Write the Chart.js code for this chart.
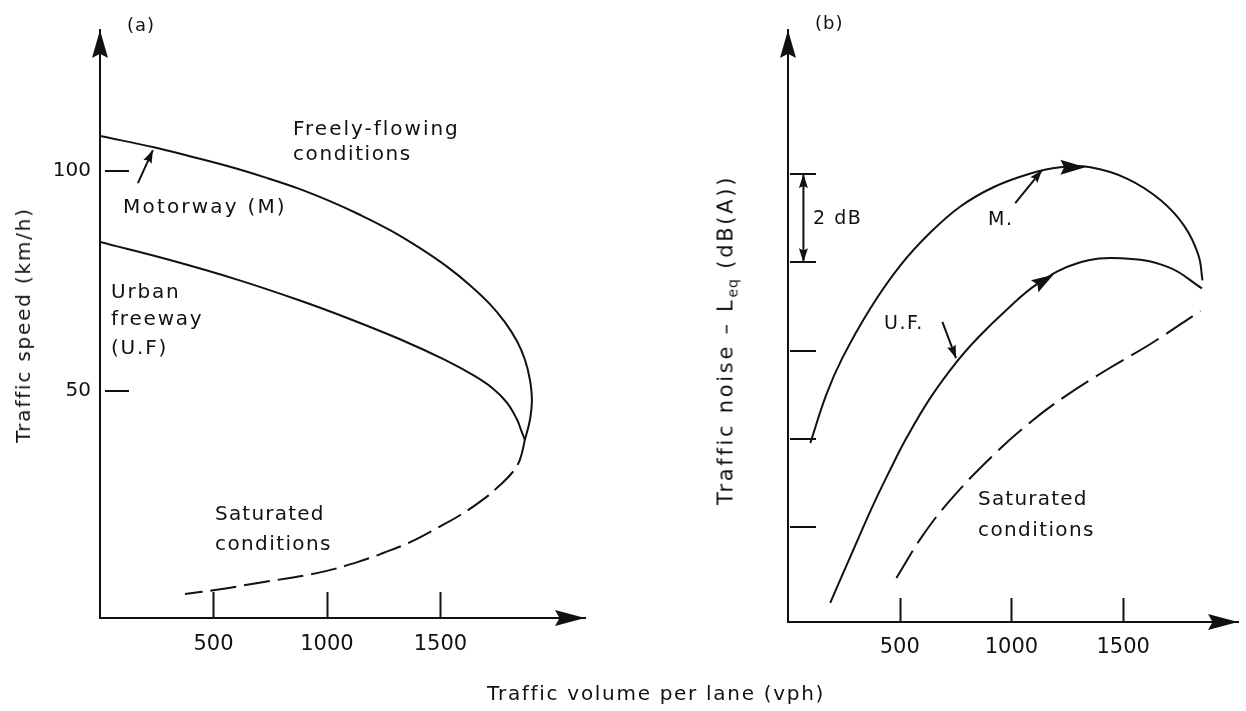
<!DOCTYPE html>
<html>
<head>
<meta charset="utf-8">
<title>Traffic speed and noise against traffic volume</title>
<script src="https://cdn.jsdelivr.net/npm/chart.js@4.4.1/dist/chart.umd.min.js"></script>
<style>
  html, body { margin: 0; padding: 0; background: #fff; }
  #page { position: relative; width: 1246px; height: 711px; overflow: hidden; background: #fff; }
  #page canvas { position: absolute; left: 0; top: 0; }
  .axis-title {
    position: absolute;
    white-space: nowrap;
    font-family: "DejaVu Sans", "Liberation Sans", sans-serif;
    color: #111;
    transform: translate(-50%, -50%) rotate(-90deg);
  }
  #speedTitle { left: 23px; top: 325px; font-size: 20px; line-height: 20px; letter-spacing: 1.8px; }
  #noiseTitle { left: 727px; top: 340px; font-size: 21px; line-height: 21px; letter-spacing: 2.7px; }
  #noiseTitle .sub { position: relative; top: 5px; font-size: 14px; letter-spacing: 1px; }
</style>
</head>
<body>
<div id="page">
  <canvas id="speedChart" width="1246" height="711"></canvas>
  <canvas id="noiseChart" width="1246" height="711"></canvas>
  <div class="axis-title" id="speedTitle">Traffic speed (km/h)</div>
  <div class="axis-title" id="noiseTitle">Traffic noise – L<span class="sub">eq</span> (dB(A))</div>
</div>
<script>
// tick values
const volumeTicks = [500, 1000, 1500];
const speedTicks = [50, 100];
const noiseTicks = [0, 2, 4, 6, 8]; // 2 dB(A) steps, unlabelled

// (a) speed-flow curves
const motorwayVolume = [0, 242, 396, 573, 727, 872, 1013, 1145, 1278, 1410, 1529, 1630, 1718, 1784, 1837, 1872, 1894, 1903, 1894, 1872];
const motorwaySpeed = [107.9, 105.3, 103.3, 100.9, 98.5, 96.0, 93.1, 90.0, 86.5, 82.4, 78.2, 74.0, 69.7, 65.6, 61.3, 57.1, 52.6, 47.9, 43.3, 38.8];

const freewayVolume = [0, 308, 608, 881, 1101, 1322, 1520, 1652, 1731, 1793, 1837, 1855, 1872];
const freewaySpeed = [83.8, 79.7, 75.2, 70.5, 66.3, 61.7, 57.0, 53.3, 50.5, 47.3, 43.5, 41.1, 38.8];

const saturatedVolume = [1872, 1850, 1815, 1753, 1696, 1586, 1485, 1388, 1308, 1137, 960, 696, 507, 374];
const saturatedSpeed = [38.8, 34.3, 31.3, 28.1, 25.6, 21.7, 18.8, 16.1, 14.3, 11.1, 8.6, 6.3, 4.7, 3.8];

// (b) noise-flow curves, dB(A) relative to the lowest tick
const noiseMotorwayVolume = [100, 171, 243, 369, 503, 638, 773, 919, 1071, 1219, 1353, 1519, 1667, 1774, 1837, 1855];
const noiseMotorway = [1.91, 3.0, 3.83, 4.96, 5.93, 6.68, 7.27, 7.7, 7.99, 8.15, 8.15, 7.89, 7.41, 6.82, 6.16, 5.59];

const noiseFreewayVolume = [189, 288, 387, 459, 530, 637, 754, 853, 973, 1116, 1295, 1492, 1702, 1853];
const noiseFreeway = [-1.71, -0.56, 0.57, 1.32, 2.02, 2.93, 3.74, 4.31, 4.9, 5.51, 5.98, 6.09, 5.89, 5.41];

const noiseSaturatedVolume = [485, 601, 727, 906, 1085, 1250, 1434, 1622, 1846];
const noiseSaturated = [-1.15, -0.2, 0.62, 1.57, 2.38, 3.0, 3.59, 4.15, 4.9];

const FONT = '"DejaVu Sans", "Liberation Sans", sans-serif';
const INK = '#111';

const toPoints = (xs, ys) => xs.map((x, i) => ({ x, y: ys[i] }));

const curve = (label, xs, ys, dash) => ({
    label,
    data: toPoints(xs, ys),
    borderColor: INK,
    borderWidth: 2,
    borderDash: dash,
    borderCapStyle: 'butt',
    pointRadius: 0,
    showLine: true,
    tension: 0.4,
    fill: false,
});

const arrowHead = (ctx, tipX, tipY, fromX, fromY, length, halfWidth) => {
    const angle = Math.atan2(tipY - fromY, tipX - fromX);
    ctx.save();
    ctx.translate(tipX, tipY);
    ctx.rotate(angle);
    ctx.beginPath();
    ctx.moveTo(0, 0);
    ctx.lineTo(-length, -halfWidth);
    ctx.lineTo(-length * 0.85, 0);
    ctx.lineTo(-length, halfWidth);
    ctx.closePath();
    ctx.fill();
    ctx.restore();
};

const drawLabel = (ctx, text, x, y, size, spacing) => {
    ctx.font = `${size}px ${FONT}`;
    ctx.letterSpacing = `${spacing}px`;
    ctx.textAlign = 'left';
    ctx.textBaseline = 'alphabetic';
    ctx.fillText(text, x, y);
};

// axis arrows, inward ticks, pointers and annotations
const sketchMarks = {
    id: 'sketchMarks',
    afterDatasetsDraw(chart, args, opts) {
        const { ctx, chartArea: area, scales: { x, y } } = chart;
        ctx.save();
        ctx.fillStyle = INK;
        ctx.strokeStyle = INK;
        ctx.lineWidth = 2;

        arrowHead(ctx, area.left, area.top, area.left, area.top + 10, 28, 8);
        arrowHead(ctx, area.right, area.bottom, area.right - 10, area.bottom, 30, 8);

        ctx.beginPath();
        opts.xTicks.forEach((v) => {
            const px = Math.round(x.getPixelForValue(v)) + 0.5;
            ctx.moveTo(px, area.bottom);
            ctx.lineTo(px, area.bottom - opts.xTickLength);
        });
        opts.yTicks.forEach((v) => {
            const py = Math.round(y.getPixelForValue(v));
            ctx.moveTo(area.left + opts.yTickFrom, py);
            ctx.lineTo(area.left + opts.yTickTo, py);
        });
        ctx.stroke();

        (opts.pointers || []).forEach((p) => {
            const x0 = x.getPixelForValue(p.from[0]);
            const y0 = y.getPixelForValue(p.from[1]);
            const x1 = x.getPixelForValue(p.to[0]);
            const y1 = y.getPixelForValue(p.to[1]);
            if (p.line !== false) {
                ctx.beginPath();
                ctx.moveTo(x0, y0);
                ctx.lineTo(x1, y1);
                ctx.stroke();
            }
            arrowHead(ctx, x1, y1, x0, y0, p.head[0], p.head[1]);
            if (p.both) {
                arrowHead(ctx, x0, y0, x1, y1, p.head[0], p.head[1]);
            }
        });

        (opts.labels || []).forEach((l) => drawLabel(ctx, l.text, l.x, l.y, l.size, l.spacing));
        ctx.restore();
    },
};

const axisStyle = (ticks, size, padding, show) => ({
    type: 'linear',
    grid: { display: false, drawTicks: false },
    border: { display: true, color: INK, width: 2 },
    afterBuildTicks: (scale) => {
        scale.ticks = ticks.map((value) => ({ value }));
    },
    ticks: {
        display: show,
        autoSkip: false,
        maxRotation: 0,
        padding,
        color: INK,
        font: { family: FONT, size },
        callback: (value) => String(value),
    },
});

const speedChart = new Chart(document.getElementById('speedChart'), {
    type: 'scatter',
    data: {
        datasets: [
            curve('Motorway (M)', motorwayVolume, motorwaySpeed, []),
            curve('Urban freeway (U.F)', freewayVolume, freewaySpeed, []),
            curve('Saturated conditions', saturatedVolume, saturatedSpeed, [26, 8]),
        ],
    },
    plugins: [sketchMarks],
    options: {
        responsive: false,
        animation: false,
        devicePixelRatio: 1,
        layout: { padding: { top: 30, right: 661, bottom: 0, left: 0 } },
        scales: {
            x: {
                ...axisStyle(volumeTicks, 21, 14, true),
                min: 0,
                max: 2137,
                afterFit: (scale) => { scale.height = 93; },
            },
            y: {
                ...axisStyle(speedTicks, 20, 9, true),
                min: -1.66,
                max: 132,
                afterFit: (scale) => { scale.width = 100; },
            },
        },
        plugins: {
            legend: { display: false },
            tooltip: { enabled: false },
            sketchMarks: {
                xTicks: volumeTicks,
                yTicks: speedTicks,
                xTickLength: 26,
                yTickFrom: 5,
                yTickTo: 29,
                pointers: [
                    { from: [167, 97.2], to: [233, 104.7], head: [13, 4.5] },
                ],
                labels: [
                    { text: '(a)', x: 127, y: 31, size: 18, spacing: 1 },
                    { text: 'Freely-flowing', x: 293, y: 135, size: 20, spacing: 2 },
                    { text: 'conditions', x: 293, y: 160, size: 20, spacing: 1.6 },
                    { text: 'Motorway (M)', x: 123, y: 213, size: 20, spacing: 2.2 },
                    { text: 'Urban', x: 111, y: 298, size: 20, spacing: 1.8 },
                    { text: 'freeway', x: 111, y: 325, size: 20, spacing: 1.8 },
                    { text: '(U.F)', x: 111, y: 354, size: 20, spacing: 1.8 },
                    { text: 'Saturated', x: 215, y: 520, size: 20, spacing: 1.2 },
                    { text: 'conditions', x: 215, y: 550, size: 20, spacing: 1.4 },
                    { text: 'Traffic volume per lane (vph)', x: 487, y: 700, size: 20, spacing: 1.7 },
                ],
            },
        },
    },
});

const noiseChart = new Chart(document.getElementById('noiseChart'), {
    type: 'scatter',
    data: {
        datasets: [
            curve('M.', noiseMotorwayVolume, noiseMotorway, []),
            curve('U.F.', noiseFreewayVolume, noiseFreeway, []),
            curve('Saturated conditions', noiseSaturatedVolume, noiseSaturated, [32, 9]),
        ],
    },
    plugins: [sketchMarks],
    options: {
        responsive: false,
        animation: false,
        devicePixelRatio: 1,
        layout: { padding: { top: 30, right: 8, bottom: 0, left: 0 } },
        scales: {
            x: {
                ...axisStyle(volumeTicks, 21, 13, true),
                min: 0,
                max: 2014,
                afterFit: (scale) => { scale.height = 89; },
            },
            y: {
                ...axisStyle(noiseTicks, 20, 9, false),
                min: -2.144,
                max: 11.26,
                afterFit: (scale) => { scale.width = 788; },
            },
        },
        plugins: {
            legend: { display: false },
            tooltip: { enabled: false },
            sketchMarks: {
                xTicks: volumeTicks,
                yTicks: noiseTicks,
                xTickLength: 24,
                yTickFrom: 2,
                yTickTo: 28,
                pointers: [
                    // direction heads on the curves
                    { from: [1219, 8.15], to: [1331, 8.15], head: [25, 7.5], line: false },
                    { from: [1098, 5.44], to: [1188, 5.72], head: [22, 7], line: false },
                    // label pointers
                    { from: [1017, 7.34], to: [1137, 8.09], head: [13, 4.5] },
                    { from: [691, 4.65], to: [752, 3.83], head: [13, 4.5] },
                    // 2 dB interval
                    { from: [69, 6], to: [69, 8], head: [14, 4.5], both: true },
                ],
                labels: [
                    { text: '(b)', x: 815, y: 29, size: 18, spacing: 1 },
                    { text: '2 dB', x: 813, y: 224, size: 19, spacing: 1.5 },
                    { text: 'M.', x: 988, y: 225, size: 19, spacing: 1.5 },
                    { text: 'U.F.', x: 884, y: 329, size: 19, spacing: 1.5 },
                    { text: 'Saturated', x: 978, y: 505, size: 20, spacing: 1.2 },
                    { text: 'conditions', x: 978, y: 536, size: 20, spacing: 1.4 },
                ],
            },
        },
    },
});
</script>
</body>
</html>
